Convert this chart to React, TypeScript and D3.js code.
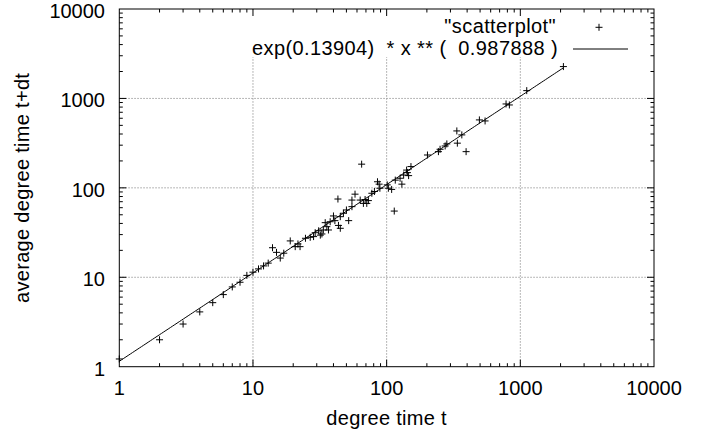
import React from 'react';
import * as d3 from 'd3';

// ── Data ──────────────────────────────────────────────────────────────────────
const degreeT = [
  1, 2, 3, 4, 5, 6, 7, 8, 9, 10, 11, 12, 13, 14, 15, 16, 17,
  19, 20.7, 21.7, 22.5, 24.7, 26.8, 28.4, 29.2, 31, 31.9, 32.8, 33.6, 34.7, 35.7, 36.7, 37.8,
  40, 41, 43.6, 43.2, 45, 45, 47.5, 50, 52, 55, 55, 58, 63.4, 65, 67, 69, 71, 73, 77.5, 81,
  85.4, 87.8, 89, 101, 103, 109, 114, 116, 126, 130, 134, 141, 143, 146,
  152, 202, 244, 251, 274, 282, 335, 338, 365, 393, 494, 545, 782, 828, 1117, 2100,
];
const avgDegree = [
  1.22, 2.0, 3.0, 4.1, 5.2, 6.4, 7.8, 8.8, 10.5, 11.4, 12.4, 13.4, 14.4, 21.4, 19, 16.4, 18.6,
  25.5, 22, 23.6, 22, 27.3, 28, 28.5, 31.5, 33.1, 29.6, 30.5, 33.8, 40.8, 36.8, 33.8, 41.8,
  48.5, 43, 38, 75, 35.3, 47.6, 52, 56.6, 43, 61.6, 73, 85, 73, 184, 67, 74, 67, 72, 87, 91,
  117, 110, 99, 108, 99, 96, 55, 122, 128, 110, 139, 158, 148, 137,
  173, 233, 254, 270, 294, 310, 433, 316, 391, 254, 575, 560, 867, 845, 1222, 2270,
];
const fitA = 0.13904;
const fitB = 0.987888;
const tickValues = [1, 10, 100, 1000, 10000];
const scatterTitle = '"scatterplot"';
const fitTitle = 'exp(0.13904)  * x ** (  0.987888 )';

// ── Layout ────────────────────────────────────────────────────────────────────
const W = 704, H = 434;
const L = 119.3, R = 654, T = 9, B = 366.7;
const FONT = '"Liberation Sans", Arial, Helvetica, sans-serif';
const FS = 20;

export default function App() {
  const x = d3.scaleLog().domain([1, 10000]).range([L, R]);
  const y = d3.scaleLog().domain([1, 10000]).range([B, T]);

  const minor: number[] = [];
  for (let d = 1; d < 10000; d *= 10) for (let k = 2; k <= 9; k++) minor.push(d * k);

  const xMax = d3.max(degreeT) as number;
  const fitXs = d3.range(0, 201).map(i => Math.pow(10, (Math.log10(xMax) * i) / 200));
  const fitLine = d3.line<number>()
    .x(v => x(v))
    .y(v => y(Math.exp(fitA) * Math.pow(v, fitB)))(fitXs) as string;

  const plus = (cx: number, cy: number, s = 3.5) => `M${cx - s},${cy}H${cx + s}M${cx},${cy - s}V${cy + s}`;
  const majT = 7, minT = 3.5;

  return (
    <div style={{ position: 'absolute', left: 0, top: 0 }}>
      <svg width={W} height={H} style={{ display: 'block', background: '#fff' }} fontFamily={FONT}>
        {/* grid */}
        <g stroke="#a0a0a0" strokeWidth={1} strokeDasharray="1.5,1.5" fill="none">
          {tickValues.slice(1, -1).map(v => (
            <g key={v}>
              <line x1={x(v)} x2={x(v)} y1={B} y2={T} />
              <line x1={L} x2={R} y1={y(v)} y2={y(v)} />
            </g>
          ))}
        </g>
        {/* legend background hides grid */}
        <rect x={245} y={T + 1} width={395} height={47} fill="#fff" />

        {/* fit line */}
        <path d={fitLine} fill="none" stroke="#000" strokeWidth={1} />

        {/* scatter points */}
        <path
          d={degreeT.map((v, i) => plus(x(v), y(avgDegree[i]))).join('')}
          stroke="#000" strokeWidth={1} fill="none"
        />

        {/* border + ticks */}
        <g stroke="#000" strokeWidth={1} fill="none">
          <rect x={L} y={T} width={R - L} height={B - T} />
          {tickValues.slice(1, -1).map(v => (
            <g key={'M' + v}>
              <line x1={x(v)} x2={x(v)} y1={B} y2={B - majT} />
              <line x1={x(v)} x2={x(v)} y1={T} y2={T + majT} />
              <line x1={L} x2={L + majT} y1={y(v)} y2={y(v)} />
              <line x1={R} x2={R - majT} y1={y(v)} y2={y(v)} />
            </g>
          ))}
          {minor.map(v => (
            <g key={'m' + v}>
              <line x1={x(v)} x2={x(v)} y1={B} y2={B - minT} />
              <line x1={x(v)} x2={x(v)} y1={T} y2={T + minT} />
              <line x1={L} x2={L + minT} y1={y(v)} y2={y(v)} />
              <line x1={R} x2={R - minT} y1={y(v)} y2={y(v)} />
            </g>
          ))}
        </g>

        {/* tick labels */}
        <g fontSize={FS} fill="#000">
          {tickValues.map(v => (
            <text key={'xl' + v} x={x(v)} y={395} textAnchor="middle">{v}</text>
          ))}
          {tickValues.map(v => (
            <text key={'yl' + v} x={105} y={y(v) + 9} textAnchor="end">{v}</text>
          ))}
        </g>

        {/* axis titles */}
        <text x={(L + R) / 2} y={425} textAnchor="middle" fontSize={FS} letterSpacing={0.3}>degree time t</text>
        <text transform={`translate(29,${(T + B) / 2}) rotate(-90)`} textAnchor="middle" fontSize={FS} letterSpacing={0.3}>
          average degree time t+dt
        </text>

        {/* legend */}
        <g fontSize={FS} letterSpacing={0.4}>
          <text x={556} y={33.3} textAnchor="end" style={{ whiteSpace: 'pre' }}>{scatterTitle}</text>
          <path d={plus(599, 27.3)} stroke="#000" fill="none" />
          <text x={558} y={55} textAnchor="end" style={{ whiteSpace: 'pre' }}>{fitTitle}</text>
          <line x1={573} x2={628} y1={49} y2={49} stroke="#000" />
        </g>
      </svg>
    </div>
  );
}
